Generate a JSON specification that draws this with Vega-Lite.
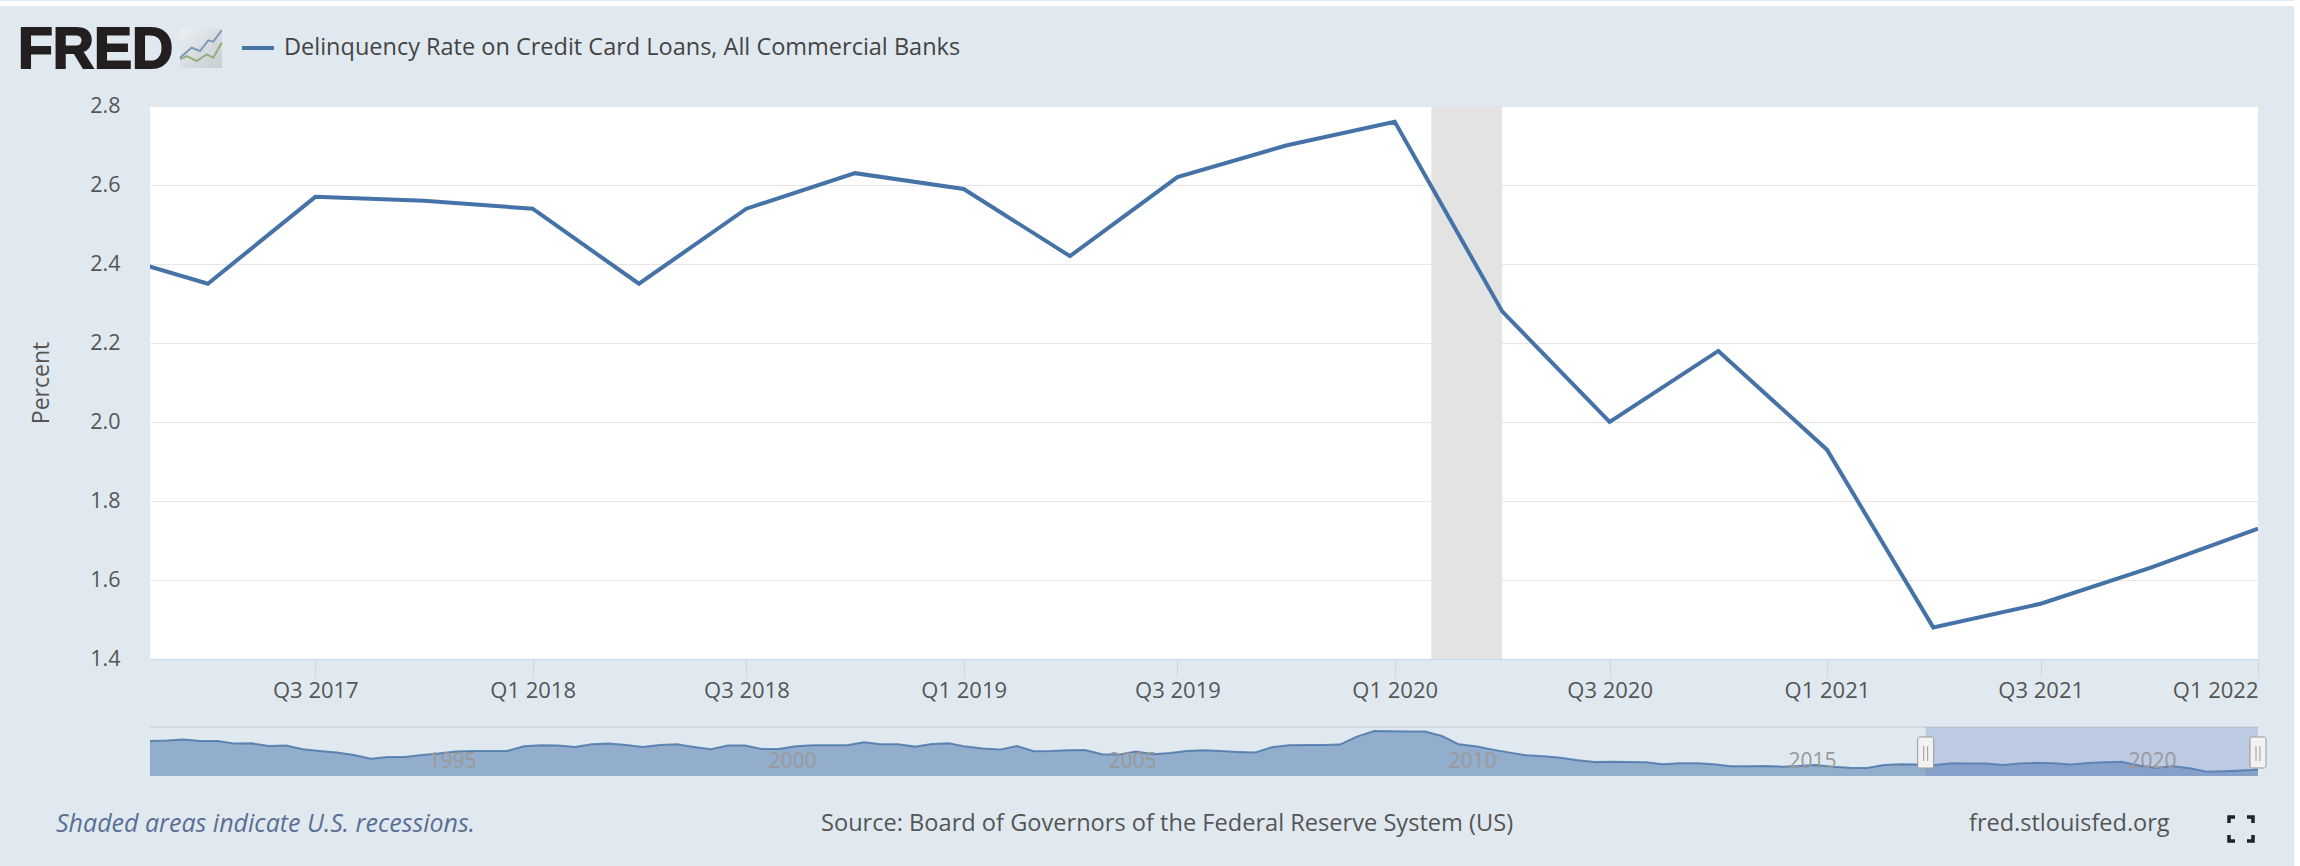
{
  "$schema": "https://vega.github.io/schema/vega-lite/v6.json",
  "background": "#e1e9f0",
  "padding": 0,
  "autosize": {"type": "pad"},
  "bounds": "flush",
  "spacing": 68,
  "config": {
    "view": {"stroke": null},
    "font": "Open Sans"
  },
  "datasets": {
    "delinquency": [
      {"date":"1991-01-01","rate":5.47},{"date":"1991-04-01","rate":5.52},{"date":"1991-07-01","rate":5.65},{"date":"1991-10-01","rate":5.47},
      {"date":"1992-01-01","rate":5.47},{"date":"1992-04-01","rate":5.13},{"date":"1992-07-01","rate":5.17},{"date":"1992-10-01","rate":4.82},
      {"date":"1993-01-01","rate":4.87},{"date":"1993-04-01","rate":4.39},{"date":"1993-07-01","rate":4.17},{"date":"1993-10-01","rate":3.96},
      {"date":"1994-01-01","rate":3.65},{"date":"1994-04-01","rate":3.17},{"date":"1994-07-01","rate":3.39},{"date":"1994-10-01","rate":3.39},
      {"date":"1995-01-01","rate":3.65},{"date":"1995-04-01","rate":3.83},{"date":"1995-07-01","rate":4.09},{"date":"1995-10-01","rate":4.17},
      {"date":"1996-01-01","rate":4.17},{"date":"1996-04-01","rate":4.17},{"date":"1996-07-01","rate":4.78},{"date":"1996-10-01","rate":4.91},
      {"date":"1997-01-01","rate":4.87},{"date":"1997-04-01","rate":4.69},{"date":"1997-07-01","rate":5.04},{"date":"1997-10-01","rate":5.13},
      {"date":"1998-01-01","rate":4.95},{"date":"1998-04-01","rate":4.69},{"date":"1998-07-01","rate":4.95},{"date":"1998-10-01","rate":5.04},
      {"date":"1999-01-01","rate":4.69},{"date":"1999-04-01","rate":4.39},{"date":"1999-07-01","rate":4.87},{"date":"1999-10-01","rate":4.87},
      {"date":"2000-01-01","rate":4.43},{"date":"2000-04-01","rate":4.43},{"date":"2000-07-01","rate":4.78},{"date":"2000-10-01","rate":4.91},
      {"date":"2001-01-01","rate":4.91},{"date":"2001-04-01","rate":4.91},{"date":"2001-07-01","rate":5.30},{"date":"2001-10-01","rate":5.04},
      {"date":"2002-01-01","rate":5.04},{"date":"2002-04-01","rate":4.74},{"date":"2002-07-01","rate":5.08},{"date":"2002-10-01","rate":5.17},
      {"date":"2003-01-01","rate":4.74},{"date":"2003-04-01","rate":4.48},{"date":"2003-07-01","rate":4.35},{"date":"2003-10-01","rate":4.82},
      {"date":"2004-01-01","rate":4.13},{"date":"2004-04-01","rate":4.17},{"date":"2004-07-01","rate":4.26},{"date":"2004-10-01","rate":4.30},
      {"date":"2005-01-01","rate":3.74},{"date":"2005-04-01","rate":3.70},{"date":"2005-07-01","rate":4.09},{"date":"2005-10-01","rate":3.74},
      {"date":"2006-01-01","rate":3.91},{"date":"2006-04-01","rate":4.17},{"date":"2006-07-01","rate":4.26},{"date":"2006-10-01","rate":4.17},
      {"date":"2007-01-01","rate":4.04},{"date":"2007-04-01","rate":3.96},{"date":"2007-07-01","rate":4.65},{"date":"2007-10-01","rate":4.91},
      {"date":"2008-01-01","rate":4.95},{"date":"2008-04-01","rate":4.95},{"date":"2008-07-01","rate":5.00},{"date":"2008-10-01","rate":6.04},
      {"date":"2009-01-01","rate":6.77},{"date":"2009-04-01","rate":6.73},{"date":"2009-07-01","rate":6.69},{"date":"2009-10-01","rate":6.69},
      {"date":"2010-01-01","rate":6.12},{"date":"2010-04-01","rate":5.04},{"date":"2010-07-01","rate":4.78},{"date":"2010-10-01","rate":4.35},
      {"date":"2011-01-01","rate":3.96},{"date":"2011-04-01","rate":3.61},{"date":"2011-07-01","rate":3.48},{"date":"2011-10-01","rate":3.30},
      {"date":"2012-01-01","rate":2.96},{"date":"2012-04-01","rate":2.74},{"date":"2012-07-01","rate":2.78},{"date":"2012-10-01","rate":2.74},
      {"date":"2013-01-01","rate":2.70},{"date":"2013-04-01","rate":2.44},{"date":"2013-07-01","rate":2.57},{"date":"2013-10-01","rate":2.57},
      {"date":"2014-01-01","rate":2.44},{"date":"2014-04-01","rate":2.18},{"date":"2014-07-01","rate":2.18},{"date":"2014-10-01","rate":2.22},
      {"date":"2015-01-01","rate":2.13},{"date":"2015-04-01","rate":2.22},{"date":"2015-07-01","rate":2.35},{"date":"2015-10-01","rate":2.13},
      {"date":"2016-01-01","rate":2.00},{"date":"2016-04-01","rate":1.96},{"date":"2016-07-01","rate":2.35},{"date":"2016-10-01","rate":2.44},
      {"date":"2017-01-01","rate":2.43},{"date":"2017-04-01","rate":2.35},{"date":"2017-07-01","rate":2.57},{"date":"2017-10-01","rate":2.56},
      {"date":"2018-01-01","rate":2.54},{"date":"2018-04-01","rate":2.35},{"date":"2018-07-01","rate":2.54},{"date":"2018-10-01","rate":2.63},
      {"date":"2019-01-01","rate":2.59},{"date":"2019-04-01","rate":2.42},{"date":"2019-07-01","rate":2.62},{"date":"2019-10-01","rate":2.70},
      {"date":"2020-01-01","rate":2.76},{"date":"2020-04-01","rate":2.28},{"date":"2020-07-01","rate":2.00},{"date":"2020-10-01","rate":2.18},
      {"date":"2021-01-01","rate":1.93},{"date":"2021-04-01","rate":1.48},{"date":"2021-07-01","rate":1.54},{"date":"2021-10-01","rate":1.63},
      {"date":"2022-01-01","rate":1.73}
    ],
    "recessions": [{"start":"2020-02-01","end":"2020-04-01"}],
    "window": [{"start":"2017-02-11","end":"2022-01-01"}],
    "handles": [{"date":"2017-02-11"},{"date":"2022-01-01"}],
    "logoBlue": [{"lx":162,"ly":10.3},{"lx":173.7,"ly":20.3},{"lx":182,"ly":17},{"lx":190.3,"ly":27.7},{"lx":195.3,"ly":26.3},{"lx":203.7,"ly":37.7}],
    "logoGreen": [{"lx":162,"ly":8.7},{"lx":168.7,"ly":12},{"lx":178.7,"ly":7},{"lx":188.7,"ly":13.7},{"lx":195.3,"ly":10.3},{"lx":203.7,"ly":25.3}],
    "brackets": [
      {"corner":"tl","step":1,"ix":0,"iy":6},{"corner":"tl","step":2,"ix":0,"iy":0},{"corner":"tl","step":3,"ix":6,"iy":0},
      {"corner":"tr","step":1,"ix":18,"iy":0},{"corner":"tr","step":2,"ix":24,"iy":0},{"corner":"tr","step":3,"ix":24,"iy":6},
      {"corner":"bl","step":1,"ix":0,"iy":18},{"corner":"bl","step":2,"ix":0,"iy":24},{"corner":"bl","step":3,"ix":6,"iy":24},
      {"corner":"br","step":1,"ix":18,"iy":24},{"corner":"br","step":2,"ix":24,"iy":24},{"corner":"br","step":3,"ix":24,"iy":18}
    ]
  },
  "vconcat": [
    {
      "width": 2108,
      "height": 32,
      "data": {"values": [{}]},
      "layer": [
        {
          "mark": {"type": "rect", "fill": "white"},
          "encoding": {
            "x": {"datum": -18, "type": "quantitative", "axis": null, "scale": {"domain": [0, 204], "range": [-132, 72], "zero": false, "nice": false}},
            "x2": {"datum": 2276},
            "y": {"datum": 62, "type": "quantitative", "axis": null, "scale": {"domain": [0, 42], "range": [62, 20], "zero": false, "nice": false}},
            "y2": {"datum": 67}
          }
        },
        {
          "mark": {"type": "text", "text": "FRED", "font": "Liberation Sans", "fontWeight": "bold", "fontSize": 57, "align": "left", "baseline": "alphabetic", "fill": "#231f20", "stroke": "#231f20", "strokeWidth": 2},
          "encoding": {
            "x": {"datum": 0, "type": "quantitative"},
            "y": {"datum": 0, "type": "quantitative"}
          }
        },
        {
          "mark": {
            "type": "rect",
            "opacity": 0.85,
            "fill": {"x1": 0, "y1": 0, "x2": 1, "y2": 1, "gradient": "linear", "stops": [{"offset": 0, "color": "#eef1f3"}, {"offset": 1, "color": "#c3c8cc"}]}
          },
          "encoding": {
            "x": {"datum": 162, "type": "quantitative"},
            "x2": {"datum": 204},
            "y": {"datum": 0, "type": "quantitative"},
            "y2": {"datum": 40}
          }
        },
        {
          "data": {"name": "logoBlue"},
          "mark": {"type": "line", "stroke": "#7f9bb8", "strokeWidth": 2},
          "encoding": {
            "x": {"field": "lx", "type": "quantitative"},
            "y": {"field": "ly", "type": "quantitative"}
          }
        },
        {
          "data": {"name": "logoGreen"},
          "mark": {"type": "line", "stroke": "#93b07a", "strokeWidth": 2},
          "encoding": {
            "x": {"field": "lx", "type": "quantitative"},
            "y": {"field": "ly", "type": "quantitative"}
          }
        }
      ]
    },
    {
      "width": 2108,
      "height": 553,
      "view": {"fill": "white", "stroke": null},
      "layer": [
        {
          "data": {"name": "recessions"},
          "mark": {"type": "rect", "fill": "#e3e3e3"},
          "encoding": {
            "x": {"field": "start", "type": "temporal"},
            "x2": {"field": "end"}
          }
        },
        {
          "data": {"name": "delinquency"},
          "mark": {"type": "line", "strokeWidth": 4, "clip": true},
          "encoding": {
            "x": {
              "field": "date",
              "type": "temporal",
              "title": null,
              "scale": {"type": "utc", "domain": ["2017-02-11", "2022-01-01"], "nice": false},
              "axis": {
                "values": ["2017-07-01", "2018-01-01", "2018-07-01", "2019-01-01", "2019-07-01", "2020-01-01", "2020-07-01", "2021-01-01", "2021-07-01", "2022-01-01"],
                "format": "Q%q %Y",
                "grid": false,
                "domainColor": "#ccd6eb",
                "tickColor": "#ccd6eb",
                "tickSize": 18,
                "labelFont": "Open Sans",
                "labelFontSize": 22,
                "labelColor": "#555555",
                "labelPadding": 3,
                "labelFlush": true,
                "labelOverlap": false
              }
            },
            "y": {
              "field": "rate",
              "type": "quantitative",
              "title": "Percent",
              "scale": {"domain": [1.4, 2.8], "zero": false, "nice": false},
              "axis": {
                "values": [1.4, 1.6, 1.8, 2.0, 2.2, 2.4, 2.6, 2.8],
                "format": ".1f",
                "grid": true,
                "gridColor": "#e6e6e6",
                "domain": false,
                "ticks": false,
                "labelFont": "Open Sans",
                "labelFontSize": 21.5,
                "labelColor": "#555555",
                "labelPadding": 30,
                "titleFont": "Open Sans",
                "titleFontSize": 23,
                "titleFontWeight": "normal",
                "titleColor": "#555555",
                "titlePadding": 36
              }
            },
            "color": {
              "datum": "Delinquency Rate on Credit Card Loans, All Commercial Banks",
              "scale": {"range": ["#4572a7"]},
              "legend": {
                "orient": "none",
                "legendX": 90,
                "legendY": 24,
                "title": null,
                "padding": 0,
                "symbolType": "stroke",
                "symbolSize": 1024,
                "symbolStrokeWidth": 4,
                "labelFont": "Open Sans",
                "labelFontSize": 23.5,
                "labelColor": "#444444",
                "labelLimit": 900,
                "labelOffset": 8
              }
            }
          }
        }
      ]
    },
    {
      "width": 2108,
      "height": 49,
      "layer": [
        {
          "data": {"name": "delinquency"},
          "mark": {"type": "area", "fill": "#4572a7", "fillOpacity": 0.5, "line": {"stroke": "#4572a7", "strokeWidth": 2, "strokeOpacity": 0.8}},
          "encoding": {
            "x": {
              "field": "date",
              "type": "temporal",
              "title": null,
              "scale": {"type": "utc", "domain": ["1991-01-01", "2022-01-01"], "nice": false},
              "axis": {
                "values": ["1995-01-01", "2000-01-01", "2005-01-01", "2010-01-01", "2015-01-01", "2020-01-01"],
                "format": "%Y",
                "grid": false,
                "domain": false,
                "ticks": false,
                "zindex": 1,
                "labelFont": "Open Sans",
                "labelFontSize": 21,
                "labelColor": "#999999",
                "labelAlign": "left",
                "labelBaseline": "middle",
                "labelOffset": 6,
                "labelPadding": -15
              }
            },
            "y": {
              "field": "rate",
              "type": "quantitative",
              "axis": null,
              "scale": {"domain": [0.92, 7.29], "zero": false, "nice": false}
            },
            "y2": {"datum": 0.92}
          }
        },
        {
          "data": {"values": [{}]},
          "mark": {"type": "rule", "stroke": "#cfd4da", "strokeWidth": 1.5},
          "encoding": {"y": {"datum": 7.29, "type": "quantitative"}}
        },
        {
          "data": {"name": "window"},
          "mark": {"type": "rect", "fill": "#6685c2", "fillOpacity": 0.3},
          "encoding": {
            "x": {"field": "start", "type": "temporal"},
            "x2": {"field": "end"}
          }
        },
        {
          "data": {"name": "handles"},
          "mark": {"type": "rect", "width": 16, "fill": "#f2f2f2", "stroke": "#999999", "strokeWidth": 1, "cornerRadius": 2},
          "encoding": {
            "x": {"field": "date", "type": "temporal"},
            "y": {"datum": 5.99, "type": "quantitative"},
            "y2": {"datum": 1.96}
          }
        },
        {
          "data": {"name": "handles"},
          "mark": {"type": "rule", "stroke": "#999999", "strokeWidth": 1, "xOffset": -2},
          "encoding": {
            "x": {"field": "date", "type": "temporal"},
            "y": {"datum": 4.82, "type": "quantitative"},
            "y2": {"datum": 2.87}
          }
        },
        {
          "data": {"name": "handles"},
          "mark": {"type": "rule", "stroke": "#999999", "strokeWidth": 1, "xOffset": 2},
          "encoding": {
            "x": {"field": "date", "type": "temporal"},
            "y": {"datum": 4.82, "type": "quantitative"},
            "y2": {"datum": 2.87}
          }
        }
      ]
    },
    {
      "width": 2108,
      "height": 23,
      "resolve": {"scale": {"x": "independent", "y": "independent"}},
      "layer": [
        {
          "layer": [
            {
              "data": {"values": [{"note": "Shaded areas indicate U.S. recessions."}]},
              "mark": {"type": "text", "align": "left", "font": "Open Sans", "fontStyle": "italic", "fontSize": 25, "fill": "#5a6f94", "dy": -31.5},
              "encoding": {
                "x": {"field": "note", "type": "nominal", "axis": null, "scale": {"domain": ["Shaded areas indicate U.S. recessions.", "Source: Board of Governors of the Federal Reserve System (US)", "fred.stlouisfed.org"], "range": [-94, 1819], "padding": 0}},
                "text": {"field": "note"}
              }
            },
            {
              "data": {"values": [{"note": "Source: Board of Governors of the Federal Reserve System (US)"}]},
              "mark": {"type": "text", "align": "left", "font": "Open Sans", "fontSize": 23.6, "fill": "#555555", "dx": -191.5, "dy": -31.5},
              "encoding": {
                "x": {"field": "note", "type": "nominal"},
                "text": {"field": "note"}
              }
            },
            {
              "data": {"values": [{"note": "fred.stlouisfed.org"}]},
              "mark": {"type": "text", "align": "left", "font": "Open Sans", "fontSize": 23.5, "fill": "#555555", "dy": -31.5},
              "encoding": {
                "x": {"field": "note", "type": "nominal"},
                "text": {"field": "note"}
              }
            }
          ]
        },
        {
          "data": {"name": "brackets"},
          "mark": {"type": "line", "stroke": "#222222", "strokeWidth": 3.5},
          "encoding": {
            "x": {"field": "ix", "type": "quantitative", "axis": null, "scale": {"domain": [0, 24], "range": [2079, 2103], "zero": false, "nice": false}},
            "y": {"field": "iy", "type": "quantitative", "axis": null, "scale": {"domain": [0, 24], "range": [-27, -3], "zero": false, "nice": false}},
            "detail": {"field": "corner"},
            "order": {"field": "step", "type": "ordinal"}
          }
        }
      ]
    }
  ]
}
